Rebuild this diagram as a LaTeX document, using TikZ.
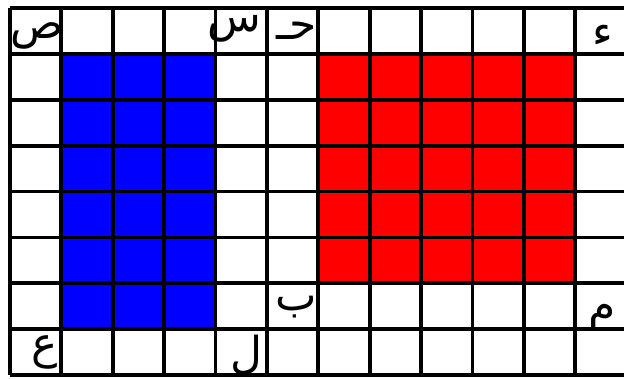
\documentclass[tikz,border=0pt]{standalone}
\usepackage{fontspec}
\newfontfamily\arabicfont[Script=Arabic]{DejaVu Sans}
\TeXXeTstate=1
\usetikzlibrary{positioning}

\begin{document}
\begin{tikzpicture}[x=25.7pt, y=-22.95pt,
  gridline/.style={line width=1.9pt, black},
  letter/.style={font=\arabicfont\fontsize{22}{26}\selectfont, inner sep=0pt}]
\useasboundingbox (-0.1946,-0.1743) rectangle (11.946,8.083);
\clip (-0.1946,-0.1743) rectangle (11.946,8.083);

% coloured blocks
\fill[blue] (1,1) rectangle (4,7);
\fill[red] (6,1) rectangle (11,6);

% grid
\foreach \i in {0,...,12}
  \draw[gridline] (\i,0) -- (\i,8);
\foreach \j in {0,...,8}
  \draw[gridline] (0,\j) -- (12,\j);

% corners
\coordinate (blueNW) at (1,1);
\coordinate (blueNE) at (4,1);
\coordinate (blueSW) at (1,7);
\coordinate (blueSE) at (4,7);
\coordinate (redNW) at (6,1);
\coordinate (redNE) at (11,1);
\coordinate (redSW) at (6,6);
\coordinate (redSE) at (11,6);

% letters
\node[letter, anchor=south east, xshift=1.3pt, yshift=2pt] (sad) at (blueNW) {\beginR ص\endR};
\node[letter, anchor=south west, xshift=-4.3pt, yshift=5.5pt] (sin) at (blueNE) {\beginR س\endR};
\node[letter, anchor=north east, xshift=-1.7pt, yshift=-2.9pt] (ain) at (blueSW) {\beginR ع\endR};
\node[letter, anchor=north west, xshift=7.2pt, yshift=-2.6pt] (lam) at (blueSE) {\beginR ل\endR};
\node[letter, anchor=south east, xshift=-0.7pt, yshift=7pt] (ha) at (redNW) {\beginR حـ\endR};
\node[letter, anchor=south west, xshift=8.3pt, yshift=3.5pt] (hamza) at (redNE) {\beginR ء\endR};
\node[letter, anchor=north east, xshift=-0.7pt, yshift=-6.3pt] (ba) at (redSW) {\beginR ب\endR};
\node[letter, anchor=north west, xshift=6.3pt, yshift=-10pt] (mim) at (redSE) {\beginR م\endR};
\end{tikzpicture}
\end{document}
